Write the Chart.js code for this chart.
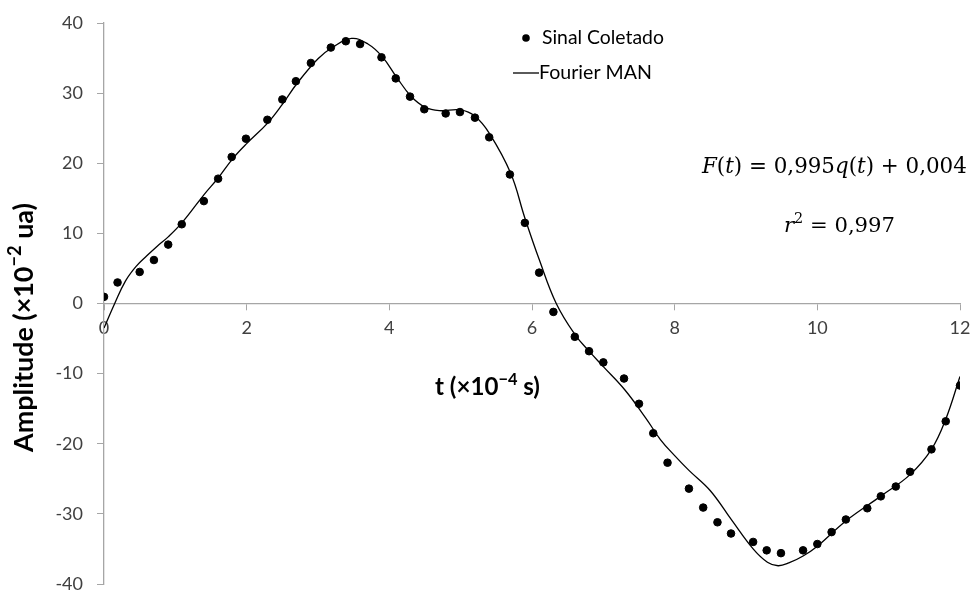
<!DOCTYPE html>
<html>
<head>
<meta charset="utf-8">
<script src="https://cdn.jsdelivr.net/npm/chart.js@4.4.1/dist/chart.umd.min.js"></script>
<style>
  html, body { margin: 0; padding: 0; background: #fff; }
  #wrap { width: 972px; height: 591px; }
</style>
</head>
<body>
<div id="wrap"><canvas id="fourierChart" width="972" height="591"></canvas></div>
<script>
// Sinal coletado (dots)
const signalT = [0, 0.19, 0.5, 0.7, 0.9, 1.09, 1.4, 1.6, 1.79, 1.99,
    2.29, 2.5, 2.69, 2.9, 3.18, 3.39, 3.59, 3.89, 4.09, 4.29,
    4.49, 4.79, 4.99, 5.2, 5.4, 5.69, 5.9, 6.1, 6.3, 6.6,
    6.8, 7.0, 7.29, 7.5, 7.7, 7.9, 8.2, 8.4, 8.6, 8.79,
    9.1, 9.29, 9.49, 9.8, 10.0, 10.2, 10.4, 10.7, 10.89, 11.1,
    11.3, 11.6, 11.8, 12.0];
const signalV = [0.95, 3.0, 4.5, 6.2, 8.4, 11.3, 14.6, 17.8, 20.9, 23.5,
    26.2, 29.1, 31.7, 34.3, 36.5, 37.4, 37.0, 35.1, 32.1, 29.5,
    27.7, 27.1, 27.3, 26.5, 23.7, 18.4, 11.5, 4.4, -1.2, -4.75,
    -6.8, -8.4, -10.7, -14.3, -18.5, -22.7, -26.4, -29.1, -31.2, -32.8,
    -34.0, -35.2, -35.6, -35.2, -34.3, -32.6, -30.8, -29.2, -27.5, -26.1,
    -24.0, -20.8, -16.8, -11.7];

// Fourier MAN fit (line)
const fitT = [0, 0.15, 0.3, 0.45, 0.6, 0.75, 0.9, 1.1, 1.4, 1.6,
    1.8, 2.0, 2.3, 2.5, 2.7, 3.0, 3.2, 3.47, 3.7, 3.9,
    4.1, 4.3, 4.5, 4.7, 5.0, 5.2, 5.4, 5.7, 5.9, 6.1,
    6.34, 6.6, 6.8, 7.0, 7.3, 7.6, 7.8, 8.0, 8.2, 8.5,
    8.8, 9.1, 9.3, 9.45, 9.6, 9.8, 10.0, 10.4, 10.9, 11.3,
    11.6, 11.8, 12.0];
const fitV = [-3.5, 0, 3.2, 5.3, 6.8, 8.2, 9.5, 11.6, 15.5, 17.9,
    20.6, 22.8, 25.8, 28.4, 31.3, 34.9, 36.5, 37.8, 37.0, 35.2,
    32.3, 29.6, 28.0, 27.5, 27.6, 26.7, 24.3, 18.6, 12.2, 6.3,
    0, -4.4, -6.8, -9.0, -12.3, -16.4, -19.4, -21.7, -23.8, -26.7,
    -30.9, -35.0, -36.9, -37.4, -37.0, -36.0, -34.6, -31.0, -27.4, -24.4,
    -20.8, -16.5, -10.4];

const xTicks = [0, 2, 4, 6, 8, 10, 12];
const yTicks = [-40, -30, -20, -10, 0, 10, 20, 30, 40];

const axisGray = '#a6a6a6';
const tickColor = '#404040';

function zip(xs, ys) {
    return xs.map((x, i) => ({ x: x, y: ys[i] }));
}

// runs: [text, style, isSup]; style is a font template with {s} for size
function runFont(run, size) {
    const s = run[2] ? size * 0.68 : size;
    return run[1].replace('{s}', s.toFixed(2));
}
function runsWidth(ctx, runs, size) {
    let w = 0;
    runs.forEach(r => { ctx.font = runFont(r, size); w += ctx.measureText(r[0]).width; });
    return w;
}
// draws runs so they span targetW, starting at x (textBaseline middle)
function drawRuns(ctx, runs, x, y, targetW) {
    let size = 20 * targetW / runsWidth(ctx, runs, 20);
    runs.forEach(r => {
        ctx.font = runFont(r, size);
        ctx.fillText(r[0], x, r[2] ? y - size * 0.32 : y);
        x += ctx.measureText(r[0]).width;
    });
}

const annotations = {
    id: 'annotations',
    afterDraw(chart) {
        const ctx = chart.ctx;
        ctx.save();
        ctx.fillStyle = '#000';
        ctx.strokeStyle = '#000';
        ctx.textBaseline = 'middle';
        ctx.textAlign = 'left';

        // legend
        ctx.beginPath();
        ctx.arc(526, 38, 3.8, 0, Math.PI * 2);
        ctx.fill();
        drawRuns(ctx, [['Sinal Coletado', '{s}px Lato']], 542, 38, 122);
        ctx.lineWidth = 1.3;
        ctx.beginPath();
        ctx.moveTo(513, 73);
        ctx.lineTo(539, 73);
        ctx.stroke();
        drawRuns(ctx, [['Fourier MAN', '{s}px Lato']], 539, 73, 113);

        // x axis title
        const b = 'bold {s}px Lato';
        drawRuns(ctx, [['t (\u00d710', b], ['\u22124', b, true], [' s)', b]], 435, 387, 105);

        // y axis title (rotated)
        ctx.save();
        ctx.translate(24, 452);
        ctx.rotate(-Math.PI / 2);
        drawRuns(ctx, [['Amplitude (\u00d710', b], ['\u22122', b, true], [' ua)', b]], 0, 0, 249);
        ctx.restore();

        // fit equation
        const it = 'italic {s}px "DejaVu Serif"';
        const rm = '{s}px "DejaVu Serif"';
        drawRuns(ctx, [['F', it], ['(', rm], ['t', it], [') = 0,995', rm], ['q', it],
            ['(', rm], ['t', it], [') + 0,004', rm]], 702, 167, 265);
        drawRuns(ctx, [['r', it], ['2', rm, true], [' = 0,997', rm]], 784, 226, 111);

        ctx.restore();
    }
};

const ctx = document.getElementById('fourierChart').getContext('2d');
new Chart(ctx, {
    type: 'scatter',
    data: {
        datasets: [
            {
                label: 'Sinal Coletado',
                data: zip(signalT, signalV),
                backgroundColor: '#000',
                borderColor: '#000',
                pointRadius: 3.8,
                pointHoverRadius: 3.8,
                order: 1
            },
            {
                label: 'Fourier MAN',
                data: zip(fitT, fitV),
                showLine: true,
                borderColor: '#000',
                borderWidth: 1.3,
                pointRadius: 0,
                tension: 0.4,
                fill: false,
                order: 2
            }
        ]
    },
    options: {
        responsive: false,
        animation: false,
        layout: { padding: { left: 0, right: 12, top: 23, bottom: 7 } },
        plugins: {
            legend: { display: false },
            tooltip: { enabled: false }
        },
        scales: {
            x: {
                type: 'linear',
                position: { y: 0 },
                min: 0,
                max: 12,
                afterBuildTicks: (scale) => { scale.ticks = xTicks.map(v => ({ value: v })); },
                afterFit: (scale) => { scale.height = 0; scale.paddingLeft = 0; scale.paddingRight = 0; },
                ticks: { color: tickColor, font: { family: 'Lato', size: 18 }, padding: 8, maxRotation: 0 },
                grid: { drawOnChartArea: false, drawTicks: true, tickLength: 6, color: axisGray },
                border: { color: axisGray, width: 1.3 }
            },
            y: {
                type: 'linear',
                min: -40,
                max: 40,
                afterBuildTicks: (scale) => { scale.ticks = yTicks.map(v => ({ value: v })); },
                afterFit: (scale) => { scale.width = 104; scale.paddingTop = 0; scale.paddingBottom = 0; },
                ticks: { color: tickColor, font: { family: 'Lato', size: 18 }, padding: 14 },
                grid: { drawOnChartArea: false, drawTicks: true, tickLength: 7, color: axisGray },
                border: { color: axisGray, width: 1.3 }
            }
        }
    },
    plugins: [annotations]
});
</script>
</body>
</html>
